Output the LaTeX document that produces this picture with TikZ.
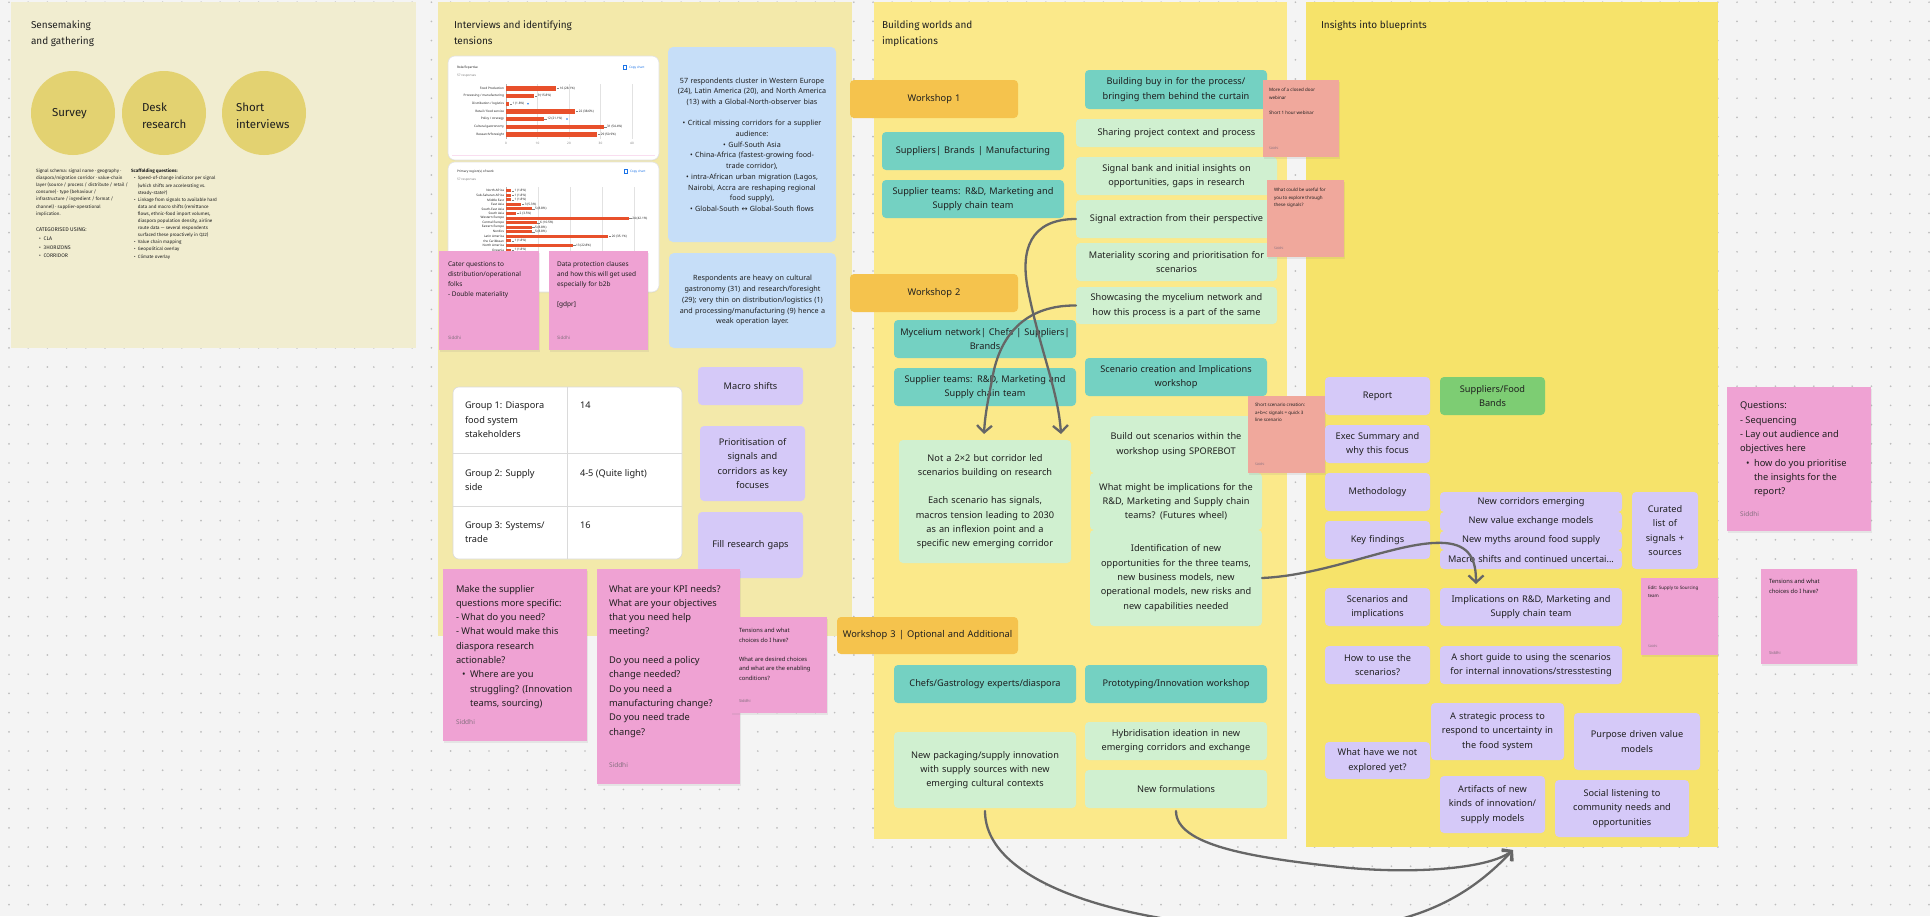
\documentclass[tikz,border=0pt]{standalone}
\usepackage{fontspec}
\setmainfont{Noto Sans}
\newfontfamily\titlefont{Fira Sans}
\newfontfamily\symfont{DejaVu Sans}
\usetikzlibrary{arrows.meta,shadows}
\definecolor{bgc}{HTML}{F4F4F4}
\definecolor{dotc}{HTML}{BDBDBD}
\definecolor{p1c}{HTML}{F1EDD0}
\definecolor{p2c}{HTML}{F3E9AA}
\definecolor{p3c}{HTML}{FBE98A}
\definecolor{p4c}{HTML}{F6E36A}
\definecolor{circc}{HTML}{E3D271}
\definecolor{bluec}{HTML}{C6DEF8}
\definecolor{pinkc}{HTML}{EFA2D3}
\definecolor{salmc}{HTML}{F0A89C}
\definecolor{lavc}{HTML}{D5C9F8}
\definecolor{tealc}{HTML}{74D1C2}
\definecolor{lgrc}{HTML}{D0F0D0}
\definecolor{orgc}{HTML}{F5C34D}
\definecolor{grnc}{HTML}{7DCD73}
\definecolor{ink}{HTML}{1F1F1F}
\definecolor{sigc}{HTML}{85707F}
\definecolor{arrc}{HTML}{666666}
\definecolor{barc}{HTML}{E8502B}
\definecolor{linkc}{HTML}{1A73E8}
\definecolor{gridc}{HTML}{E2E2E2}
\definecolor{tblc}{HTML}{DADADA}
\newcommand{\fsz}[2]{\fontsize{#1}{#2}\selectfont}
\newcommand{\card}[7]{%
  \pgfmathsetmacro{\bxw}{#5-#3}%
  \pgfmathsetmacro{\bxh}{#6-#4}%
  \pgfmathsetmacro{\bxt}{#5-#3-2}%
  \node[#2,anchor=north west,minimum width=\bxw pt,minimum height=\bxh pt,text width=\bxt pt,align=center] (#1) at (#3,#4) {#7};}
\begin{document}
\begin{tikzpicture}[x=1pt,y=-1pt,
  every node/.style={inner sep=0pt,outer sep=0pt,text=ink},
  panel/.style={fill=#1},
  bx/.style={fill=#1,rounded corners=4pt,font=\fsz{9.2}{14.3}},
  wsbox/.style={fill=orgc,rounded corners=4pt,font=\fsz{9.3}{12}},
  bluebox/.style={fill=bluec,rounded corners=5pt,font=\fsz{7.2}{10.7}},
  stk/.style={fill=#1,drop shadow={opacity=0.13,shadow xshift=0.6pt,shadow yshift=-2pt}},
  stt/.style={anchor=north west,align=left,font=\fsz{#1}{10}},
  sig/.style={anchor=west,text=sigc,font=\fsz{#1}{#1}},
  ttl/.style={anchor=north west,align=left,font=\titlefont\fsz{10}{15.5}},
  chartt/.style={font=\fsz{3.1}{3.4}},
  conn/.style={draw=arrc,line width=2.3pt,line cap=round,-{Straight Barb[length=7pt,width=15pt]}}]
\useasboundingbox (0,0) rectangle (1930,916);
\clip (0,0) rectangle (1930,916);
\fill[bgc] (0,0) rectangle (1930,916);
\foreach \i in {0,...,100}{\foreach \j in {0,...,47}{\fill[dotc] ({9+\i*19.2},{2.2+\j*19.2}) circle (0.95);}}

% ---------------- panels
\card{pan1}{panel=p1c}{11}{2}{416}{348}{}
\card{pan2}{panel=p2c}{438}{2}{852}{636}{}
\card{pan3}{panel=p3c}{874}{2}{1287}{839}{}
\card{pan4}{panel=p4c}{1306}{2}{1718}{847}{}
\node[ttl] (t1) at (31,21) {Sensemaking\\and gathering};
\node[ttl] (t2) at (454,21) {Interviews and identifying\\tensions};
\node[ttl] (t3) at (882,21) {Building worlds and\\implications};
\node[ttl] (t4) at (1321,21) {Insights into blueprints};

% ---------------- panel 1
\fill[circc] (73,113) circle (42);
\fill[circc] (164,113) circle (42);
\fill[circc] (264,113) circle (42);
\node[anchor=west,font=\titlefont\fsz{11.5}{17}] (csurv) at (52,114) {Survey};
\node[anchor=west,align=left,font=\titlefont\fsz{11.5}{17}] (cdesk) at (142,116) {Desk\\research};
\node[anchor=west,align=left,font=\titlefont\fsz{11.5}{17}] (cshort) at (236,116) {Short\\interviews};
\node[anchor=north west,align=left,font=\titlefont\fsz{4.6}{7.1}] (schema) at (36,169) {Signal schema: signal name · geography ·\\diaspora/migration corridor · value-chain\\layer (source / process / distribute / retail /\\consume) · type (behaviour /\\infrastructure / ingredient / format /\\channel) · supplier-operational\\implication.};
\node[anchor=north west,font=\titlefont\fsz{5.4}{8.3}] (catg) at (36,228) {CATEGORISED USING:};
\node[anchor=north west,font=\titlefont\fsz{5.2}{8.3}] (catl) at (39,235) {\begin{tabular}{@{}l@{\hspace{3pt}}l@{}}•&CLA\\•&3HORIZONS\\•&CORRIDOR\end{tabular}};
\node[anchor=north west,font=\titlefont\bfseries\fsz{4.6}{7.1}] (scaf) at (131,169) {Scaffolding questions:};
\node[anchor=north west,font=\titlefont\fsz{4.6}{7.1}] (scafl) at (134,175) {\begin{tabular}{@{}l@{\hspace{2.5pt}}l@{}}•&Speed-of-change indicator per signal\\&(which shifts are accelerating vs.\\&steady-state?)\\•&Linkage from signals to available hard\\&data and macro shifts (remittance\\&flows, ethnic-food import volumes,\\&diaspora population density, airline\\&route data — several respondents\\&surfaced these proactively in Q22)\\•&Value chain mapping\\•&Geopolitical overlay\\•&Climate overlay\end{tabular}};

% ---------------- panel 2: charts
\card{ch1}{fill=white,draw=gridc,line width=0.6pt,rounded corners=7pt,drop shadow={opacity=0.08,shadow yshift=-1pt,shadow xshift=0pt}}{448}{56}{659}{160}{}
\card{ch2}{fill=white,draw=gridc,line width=0.6pt,rounded corners=7pt,drop shadow={opacity=0.08,shadow yshift=-1pt,shadow xshift=0pt}}{448}{162}{659}{292}{}
\node[chartt,anchor=west] (c1t) at (457,68) {Role/Expertise};
\node[chartt,anchor=west,text=gray] (c1r) at (457,76) {57 responses};
\draw[linkc,line width=0.4pt] (623.5,65.5) rectangle (626.5,69.5);
\node[chartt,anchor=west,text=linkc] (c1c) at (629,68) {Copy chart};
\foreach \g in {537.5,569,600.5,632} \draw[gridc,line width=0.3pt] (\g,84) -- (\g,139);
\draw[gray!60,line width=0.4pt] (506,84) -- (506,139);
\foreach \val [count=\k from 0] in {0,10,20,30,40} \node[chartt,text=gray] (c1x\k) at ({506+3.15*\val},143) {\val};
\foreach \lab/\val/\pc [count=\k from 0] in {Food Production/16/28.1,{Processing / manufacturing}/9/15.8,{Distribution / logistics}/1/1.8,{Retail / food service}/22/38.6,{Policy / strategy}/12/21.1,Cultural gastronomy/31/54.4,{Research/foresight}/29/50.9}{
  \pgfmathsetmacro\yy{88.3+7.7*\k}
  \pgfmathsetmacro\xe{506+3.15*\val}
  \fill[barc] (506,\yy-2.2) rectangle (\xe,\yy+2.2);
  \node[chartt,anchor=east] (c1l\k) at (504,\yy) {\lab};
  \draw[gray,line width=0.2pt] (\xe+0.5,\yy) -- (\xe+3,\yy);
  \node[chartt,anchor=west] (c1v\k) at (\xe+3.5,\yy) {\val\ (\pc\%)};
}
\fill[linkc] (528,103.7) circle (0.9);
\fill[linkc] (567,119) circle (0.9);
\draw[pinkc!35,line width=0.8pt] (452,155) -- (655,155);
\node[chartt,anchor=west] (c2t) at (457,172) {Primary region(s) of work};
\node[chartt,anchor=west,text=gray] (c2r) at (457,180) {57 responses};
\draw[linkc,line width=0.4pt] (624.5,169.5) rectangle (627.5,173.5);
\node[chartt,anchor=west,text=linkc] (c2c) at (630,172) {Copy chart};
\foreach \g in {538,570,602,634} \draw[gridc,line width=0.3pt] (\g,187) -- (\g,255);
\draw[gray!60,line width=0.4pt] (506,187) -- (506,255);
\foreach \lab/\val/\pc [count=\k from 0] in {North Africa/1/1.8,Sub-Saharan Africa/1/1.8,Middle East/1/1.8,East Asia/3/5.3,South-East Asia/5/8.8,South Asia/2/3.5,Western Europe/24/42.1,Central Europe/6/10.5,Eastern Europe/5/8.8,Nordics/5/8.8,Latin America/20/35.1,the Caribbean/1/1.8,North America/13/22.8,Oceania/1/1.8}{
  \pgfmathsetmacro\yy{190.7+4.57*\k}
  \pgfmathsetmacro\xe{506+5.12*\val}
  \fill[barc] (506,\yy-1.5) rectangle (\xe,\yy+1.5);
  \node[chartt,anchor=east] (c2l\k) at (504,\yy) {\lab};
  \draw[gray,line width=0.2pt] (\xe+0.5,\yy) -- (\xe+3,\yy);
  \node[chartt,anchor=west] (c2v\k) at (\xe+3.5,\yy) {\val\ (\pc\%)};
}

% ---------------- panel 2: blue boxes
\card{blue1}{bluebox}{668}{47}{836}{242}{57 respondents cluster in Western Europe\\(24), Latin America (20), and North America\\(13) with a Global-North-observer bias\\[10.7pt]• Critical missing corridors for a supplier\\audience:\\• Gulf-South Asia\\• China-Africa (fastest-growing food-\\trade corridor),\\• intra-African urban migration (Lagos,\\Nairobi, Accra are reshaping regional\\food supply),\\• Global-South {\symfont ↔} Global-South flows}
\card{blue2}{bluebox}{669}{253}{836}{348}{Respondents are heavy on cultural\\gastronomy (31) and research/foresight\\(29); very thin on distribution/logistics (1)\\and processing/manufacturing (9) hence a\\weak operation layer.}

% stickies over charts
\card{s1}{stk=pinkc}{439}{251}{539}{350}{}
\node[stt=6.5] (s1t) at (448,262) {Cater questions to\\distribution/operational\\folks\\- Double materiality};
\node[sig=4.5] (s1s) at (448,338) {Siddhi};
\card{s2}{stk=pinkc}{549}{251}{648}{350}{}
\node[stt=6.5] (s2t) at (557,262) {Data protection clauses\\and how this will get used\\especially for b2b\\[9.8pt]{[gdpr]}};
\node[sig=4.5] (s2s) at (557,338) {Siddhi};

% table
\card{tbl}{fill=white,draw=tblc,line width=0.6pt,rounded corners=6pt}{453}{387}{682}{559}{}
\draw[tblc,line width=0.6pt] (567,387) -- (567,559);
\draw[tblc,line width=0.6pt] (453,453) -- (682,453);
\draw[tblc,line width=0.6pt] (453,506) -- (682,506);
\node[stt=9.2,font=\fsz{9.2}{14.3}] (g1) at (465,402) {Group 1: Diaspora\\food system\\stakeholders};
\node[stt=9.2,font=\fsz{9.2}{14.3}] (g1n) at (580,402) {14};
\node[stt=9.2,font=\fsz{9.2}{14.3}] (g2) at (465,469) {Group 2: Supply\\side};
\node[stt=9.2,font=\fsz{9.2}{14.3}] (g2n) at (580,469) {4-5 (Quite light)};
\node[stt=9.2,font=\fsz{9.2}{14.3}] (g3) at (465,522) {Group 3: Systems/\\trade};
\node[stt=9.2,font=\fsz{9.2}{14.3}] (g3n) at (580,522) {16};

\card{macro}{bx=lavc}{698}{367}{803}{405}{Macro shifts}
\card{prio}{bx=lavc}{700}{426}{805}{501}{Prioritisation of\\signals and\\corridors as key\\focuses}
\card{fill}{bx=lavc}{698}{512}{803}{578}{Fill research gaps}

\card{s3}{stk=pinkc}{443}{569}{587}{741}{}
\node[stt=9.3,font=\fsz{9.3}{14.3}] (s3t) at (456,585) {Make the supplier\\questions more specific:\\- What do you need?\\- What would make this\\diaspora research\\actionable?\\\hspace*{6pt}\makebox[8pt][l]{•}Where are you\\\hspace*{14pt}struggling? (Innovation\\\hspace*{14pt}teams, sourcing)};
\node[sig=6.5] (s3s) at (456,722) {Siddhi};
\card{s4}{stk=pinkc}{597}{569}{740}{784}{}
\node[stt=9.3,font=\fsz{9.3}{14.3}] (s4t) at (609,585) {What are your KPI needs?\\What are your objectives\\that you need help\\meeting?\\[14.3pt]Do you need a policy\\change needed?\\Do you need a\\manufacturing change?\\Do you need trade\\change?};
\node[sig=6.5] (s4s) at (609,765) {Siddhi};
\card{s5}{stk=pinkc}{731}{617}{827}{713}{}
\node[stt=5.8,font=\fsz{5.8}{9.6}] (s5t) at (739,628) {Tensions and what\\choices do I have?\\[9.6pt]What are desired choices\\and what are the enabling\\conditions?};
\node[sig=4] (s5s) at (739,701) {Siddhi};

% ---------------- panel 3
\card{ws1}{wsbox}{850}{80}{1018}{118}{Workshop 1}
\card{sbm}{bx=tealc}{882}{132}{1064}{170}{Suppliers| Brands | Manufacturing}
\card{st1}{bx=tealc}{882}{180}{1064}{218}{Supplier teams: R\&D, Marketing and\\Supply chain team}
\card{ws2}{wsbox}{850}{274}{1018}{312}{Workshop 2}
\card{myc}{bx=tealc}{894}{320}{1076}{358}{Mycelium network| Chefs | Suppliers|\\Brands}
\card{st2}{bx=tealc}{894}{368}{1076}{406}{Supplier teams: R\&D, Marketing and\\Supply chain team}
\card{r1}{bx=tealc}{1085}{70}{1267}{109}{Building buy in for the process/\\bringing them behind the curtain}
\card{r2}{bx=lgrc}{1076}{119}{1277}{147}{Sharing project context and process}
\card{r3}{bx=lgrc}{1076}{157}{1277}{195}{Signal bank and initial insights on\\opportunities, gaps in research}
\card{r4}{bx=lgrc}{1076}{200}{1277}{238}{Signal extraction from their perspective}
\card{r5}{bx=lgrc}{1076}{243}{1277}{281}{Materiality scoring and prioritisation for\\scenarios}
\card{r6}{bx=lgrc}{1076}{287}{1277}{324}{Showcasing the mycelium network and\\how this process is a part of the same}
\card{r7}{bx=tealc}{1085}{358}{1267}{396}{Scenario creation and Implications\\workshop}
\card{nota}{bx=lgrc}{899}{440}{1071}{563}{Not a 2×2 but corridor led\\scenarios building on research\\[14.3pt]Each scenario has signals,\\macros tension leading to 2030\\as an inflexion point and a\\specific new emerging corridor}
\card{bo1}{bx=lgrc}{1090}{416}{1262}{473}{Build out scenarios within the\\workshop using SPOREBOT}
\card{bo2}{bx=lgrc}{1090}{473}{1262}{530}{What might be implications for the\\R\&D, Marketing and Supply chain\\teams? (Futures wheel)}
\card{bo3}{bx=lgrc}{1090}{530}{1262}{626}{Identification of new\\opportunities for the three teams,\\new business models, new\\operational models, new risks and\\new capabilities needed}
\card{ws3}{wsbox}{837}{617}{1018}{654}{Workshop 3 | Optional and Additional}
\card{chefs}{bx=tealc}{894}{665}{1076}{703}{Chefs/Gastrology experts/diaspora}
\card{proto}{bx=tealc}{1085}{665}{1267}{703}{Prototyping/Innovation workshop}
\card{newpack}{bx=lgrc}{894}{732}{1076}{808}{New packaging/supply innovation\\with supply sources with new\\emerging cultural contexts}
\card{hybrid}{bx=lgrc}{1085}{722}{1267}{760}{Hybridisation ideation in new\\emerging corridors and exchange}
\card{newform}{bx=lgrc}{1085}{770}{1267}{808}{New formulations}

\card{redA}{stk=salmc}{1263}{80}{1339}{157}{}
\node[stt=4.5,font=\fsz{4.5}{7.7}] (redAt) at (1269,88) {More of a closed door\\webinar\\[7.7pt]Short 1 hour webinar};
\node[sig=3.2] (redAs) at (1269,148) {Siddhi};
\card{redB}{stk=salmc}{1267}{180}{1344}{257}{}
\node[stt=4.5,font=\fsz{4.5}{7.7}] (redBt) at (1274,188) {What could be useful for\\you to explore through\\these signals?};
\node[sig=3.2] (redBs) at (1274,248) {Siddhi};
\card{redC}{stk=salmc}{1248}{396}{1325}{473}{}
\node[stt=4.5,font=\fsz{4.5}{7.7}] (redCt) at (1255,403) {Short scenario creation:\\a+b+c signals = quick 3\\line scenario};
\node[sig=3.2] (redCs) at (1255,464) {Siddhi};

% ---------------- panel 4
\card{rep}{bx=lavc}{1325}{377}{1430}{415}{Report}
\card{supf}{bx=grnc}{1440}{377}{1545}{415}{Suppliers/Food\\Bands}
\card{exec}{bx=lavc}{1325}{425}{1430}{463}{Exec Summary and\\why this focus}
\card{meth}{bx=lavc}{1325}{473}{1430}{511}{Methodology}
\card{keyf}{bx=lavc}{1325}{521}{1430}{559}{Key findings}
\card{scen}{bx=lavc}{1325}{588}{1430}{626}{Scenarios and\\implications}
\card{howu}{bx=lavc}{1325}{646}{1430}{684}{How to use the\\scenarios?}
\card{nc1}{bx=lavc}{1440}{492}{1622}{512}{New corridors emerging}
\card{nc2}{bx=lavc}{1440}{512}{1622}{531}{New value exchange models}
\card{nc3}{bx=lavc}{1440}{531}{1622}{550}{New myths around food supply}
\card{nc4}{bx=lavc}{1440}{550}{1622}{569}{Macro shifts and continued uncertai...}
\card{cur}{bx=lavc}{1632}{492}{1698}{569}{Curated\\list of\\signals +\\sources}
\card{impl}{bx=lavc}{1440}{588}{1622}{626}{Implications on R\&D, Marketing and\\Supply chain team}
\card{guide}{bx=lavc}{1440}{646}{1622}{684}{A short guide to using the scenarios\\for internal innovations/stresstesting}
\card{strat}{bx=lavc}{1431}{703}{1564}{760}{A strategic process to\\respond to uncertainty in\\the food system}
\card{purp}{bx=lavc}{1574}{713}{1700}{770}{Purpose driven value\\models}
\card{notexp}{bx=lavc}{1325}{742}{1430}{779}{What have we not\\explored yet?}
\card{art}{bx=lavc}{1440}{776}{1545}{833}{Artifacts of new\\kinds of innovation/\\supply models}
\card{soc}{bx=lavc}{1555}{780}{1689}{837}{Social listening to\\community needs and\\opportunities}
\card{edit}{stk=pinkc}{1641}{578}{1718}{655}{}
\node[stt=4.5,font=\fsz{4.5}{7.7}] (editt) at (1648,586) {Edit: Supply to Sourcing\\team};
\node[sig=3.2] (edits) at (1648,646) {Siddhi};

% right stickies
\card{qs}{stk=pinkc}{1727}{387}{1871}{531}{}
\node[stt=9.3,font=\fsz{9.3}{14.3}] (qst) at (1740,402) {Questions:\\- Sequencing\\- Lay out audience and\\objectives here\\\hspace*{6pt}\makebox[8pt][l]{•}how do you prioritise\\\hspace*{14pt}the insights for the\\\hspace*{14pt}report?};
\node[sig=6.5] (qss) at (1740,514) {Siddhi};
\card{tn}{stk=pinkc}{1761}{569}{1857}{664}{}
\node[stt=5.8,font=\fsz{5.8}{9.6}] (tnt) at (1769,579) {Tensions and what\\choices do I have?};
\node[sig=4] (tns) at (1769,653) {Siddhi};

% ---------------- connectors
\draw[conn] (r4.west) .. controls (1030,219) and (1020,250) .. (1028,290) .. controls (1040,350) and (1058,390) .. ([xshift=162pt,yshift=6pt]nota.north west);
\draw[conn] (r6.west) .. controls (1030,305) and (1000,330) .. (992,380) .. controls (988,400) and (985,415) .. ([xshift=85pt,yshift=6pt]nota.north west);
\draw[conn] (bo3.east) .. controls (1330,575) and (1400,540) .. (1445,543) .. controls (1470,545) and (1476,560) .. ([xshift=36pt,yshift=4pt]impl.north west);
\coordinate (tgt) at (1513,850);
\draw[conn] ([yshift=-3pt]newpack.south) .. controls (985,885) and (1130,928) .. (1300,930) .. controls (1420,932) and (1475,890) .. (tgt);
\draw[conn] ([yshift=-3pt]newform.south) .. controls (1176,845) and (1250,858) .. (1350,868) .. controls (1420,874) and (1490,868) .. (tgt);
\end{tikzpicture}
\end{document}
